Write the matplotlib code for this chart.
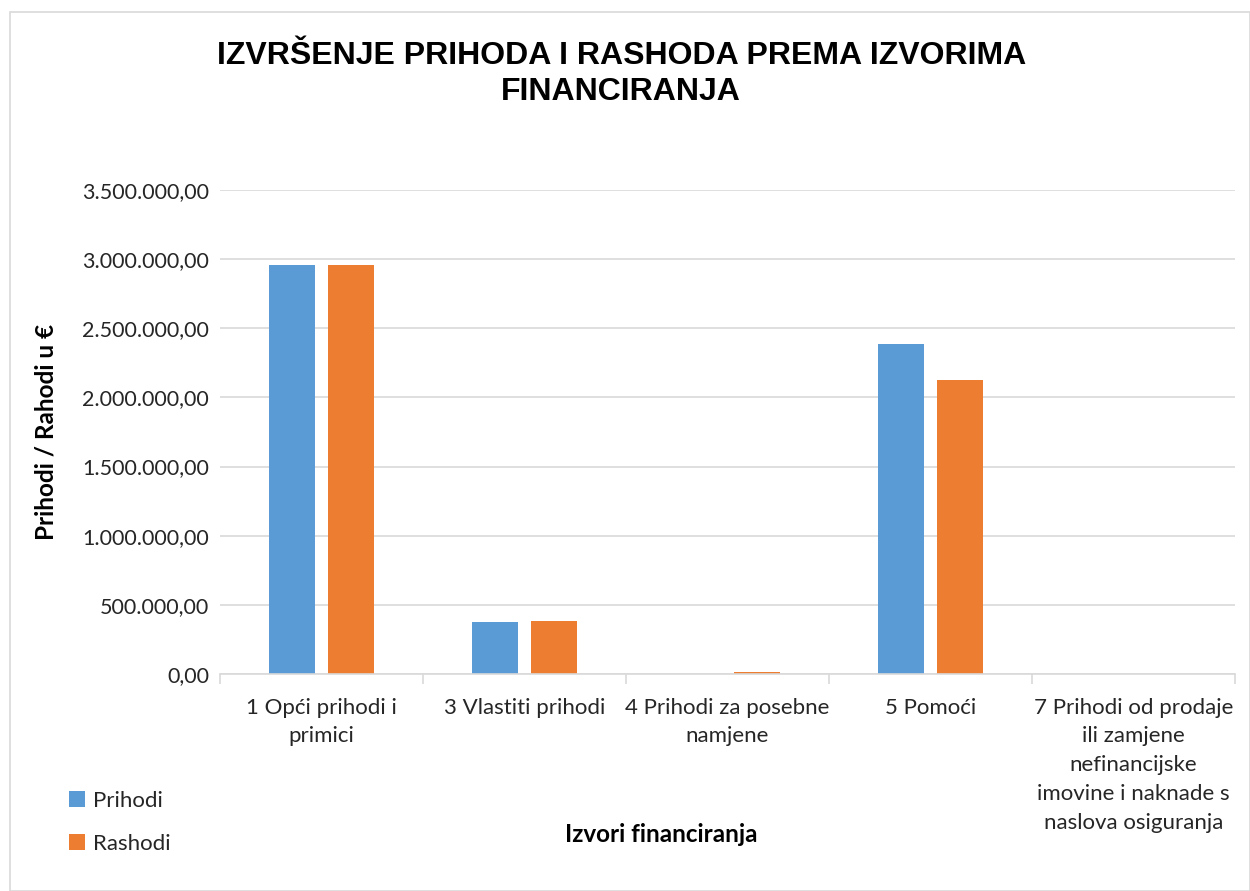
import numpy as np
import matplotlib.pyplot as plt
from matplotlib.patches import Rectangle
from matplotlib.ticker import FuncFormatter, FixedLocator

categories = ["1 Opći prihodi i\nprimici", "3 Vlastiti prihodi", "4 Prihodi za posebne\nnamjene",
              "5 Pomoći", "7 Prihodi od prodaje\nili zamjene\nnefinancijske\nimovine i naknade s\nnaslova osiguranja"]
prihodi = [2958000, 376000, 0, 2384000, 0]
rashodi = [2958000, 383000, 12000, 2126000, 0]

blue = "#5b9bd5"
orange = "#ed7d31"
grid_c = "#d9d9d9"
txt_c = "#262626"

fig = plt.figure(figsize=(12.5, 8.91), dpi=100)
fig.patches.append(Rectangle((10 / 1250, 0), 1 - 10 / 1250, 1 - 12 / 891, transform=fig.transFigure,
                             fill=False, edgecolor=grid_c, linewidth=1.2))

ax = fig.add_axes([220 / 1250, 1 - 674 / 891, (1235 - 220) / 1250, (674 - 190) / 891])

x = np.arange(len(categories))
w = 0.225
gap = 0.064
ax.bar(x - (w + gap) / 2, prihodi, w, color=blue, label="Prihodi")
ax.bar(x + (w + gap) / 2, rashodi, w, color=orange, label="Rashodi")

ax.set_xlim(-0.5, len(categories) - 0.5)
ax.set_ylim(0, 3500000)
ax.set_yticks(np.arange(0, 3500001, 500000))
ax.yaxis.set_major_formatter(FuncFormatter(lambda v, p: f"{v:,.2f}".replace(",", "X").replace(".", ",").replace("X", ".")))
ax.grid(axis="y", color=grid_c, linewidth=1.2)
ax.set_axisbelow(True)

ax.set_xticks(x)
ax.set_xticklabels(categories, fontsize=16, color=txt_c, family="Lato", linespacing=1.55)
ax.xaxis.set_minor_locator(FixedLocator(np.arange(-0.5, len(categories), 1)))
ax.tick_params(axis="x", which="major", length=0, pad=17)
ax.tick_params(axis="x", which="minor", length=7, color=grid_c, width=1.2)
ax.tick_params(axis="y", length=0, labelsize=15.5, labelcolor=txt_c, pad=8)
for lbl in ax.get_yticklabels():
    lbl.set_family("Lato")

for s in ["top", "right", "left"]:
    ax.spines[s].set_visible(False)
ax.spines["bottom"].set_color(grid_c)
ax.spines["bottom"].set_linewidth(1.2)

fig.text(0.497, 1 - 74 / 891, "IZVRŠENJE PRIHODA I RASHODA PREMA IZVORIMA\nFINANCIRANJA",
         ha="center", va="center", fontsize=23, fontweight="bold", family="Liberation Sans",
         linespacing=1.22)
fig.text(46 / 1250, 1 - 432 / 891, "Prihodi / Rahodi u €", rotation=90, ha="center", va="center",
         fontsize=17.5, fontweight="bold", family="Lato", color="black")
fig.text(661 / 1250, 1 - 835 / 891, "Izvori financiranja", ha="center", va="center",
         fontsize=17.5, fontweight="bold", family="Lato", color="black")

fig.legend(loc="lower left", bbox_to_anchor=(49 / 1250, 1 - 874 / 891), frameon=False,
           prop={"family": "Lato", "size": 16}, handlelength=0.7, handleheight=0.7,
           labelspacing=1.05, handletextpad=0.4, labelcolor=txt_c)

fig.savefig("out.png", dpi=100)
